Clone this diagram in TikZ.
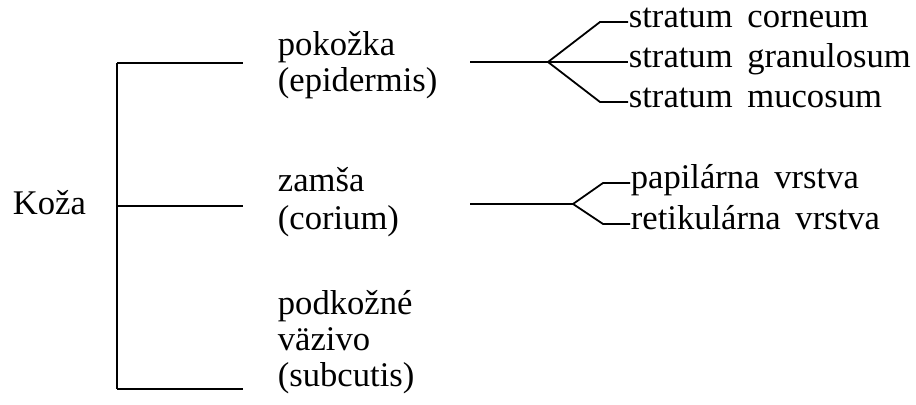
\documentclass[tikz,border=0pt]{standalone}
\usepackage{fontspec}
\setmainfont[WordSpace=1.7]{Liberation Serif}
\usetikzlibrary{calc}
\tikzset{lbl/.style={anchor=base west, inner sep=0, font=\fontsize{17.3}{20}\selectfont},
 sub/.style={anchor=west, inner sep=0, text height=6pt, text depth=0pt, font=\fontsize{17.3}{20}\selectfont}}

\begin{document}
\begin{tikzpicture}[x=0.5pt,y=-0.5pt,line width=0.9pt]
\useasboundingbox (0,0) rectangle (916,405);
\node[lbl] (koza) at (12,215) {Koža};
% bracket
\coordinate (btop) at (117,63);
\coordinate (bmid) at (117,206);
\coordinate (bbot) at (117,389);
\draw (btop) -- (bbot);
\foreach \c/\y in {btop/63, bmid/206, bbot/389} {
 \draw (\c) -- (243,\y);
}
% middle column
\node[lbl] (pok) at (277,56) {pokožka};
\node[lbl] (epi) at (277,92) {(epidermis)};
\node[lbl] (zam) at (277,192) {zamša};
\node[lbl] (cor) at (277,230) {(corium)};
\node[lbl] (podk) at (277,315) {podkožné};
\node[lbl] (vaz) at (277,351) {väzivo};
\node[lbl] (subc) at (277,387) {(subcutis)};
% epidermis
\coordinate (e0) at (470,62);
\coordinate (e1) at (548,62);
\node[sub] (corn) at (628,22) {stratum corneum};
\node[sub] (gran) at (628,62) {stratum granulosum};
\node[sub] (muc) at (628,102) {stratum mucosum};
\draw (e0) -- (e1);
\foreach \n in {corn, muc} {
 \draw (e1) -- ($(\n.west)+(-28,0)$) -- (\n.west);
}
\draw (e1) -- (gran.west);
% corium
\coordinate (c0) at (470,204);
\coordinate (c1) at (573,204);
\node[sub] (pap) at (630,183) {papilárna vrstva};
\node[sub] (ret) at (630,224) {retikulárna vrstva};
\draw (c0) -- (c1);
\foreach \n in {pap, ret} {
 \draw (c1) -- ($(\n.west)+(-27,0)$) -- (\n.west);
}
\end{tikzpicture}
\end{document}
